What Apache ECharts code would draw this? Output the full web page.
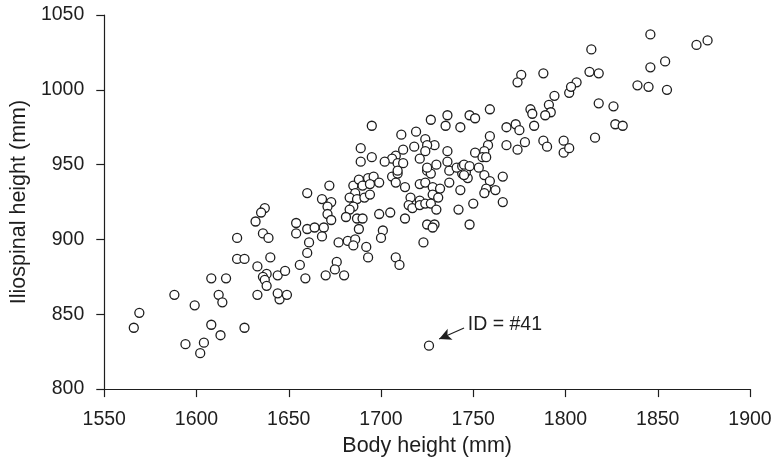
<!DOCTYPE html>
<html>
<head>
<meta charset="utf-8">
<title>Body height vs iliospinal height</title>
<script src="https://cdn.jsdelivr.net/npm/echarts@6/dist/echarts.min.js"></script>
<style>
  html, body { margin: 0; padding: 0; background: #fff; }
  #scatter { width: 779px; height: 462px; }
</style>
</head>
<body>
<div id="scatter"></div>
<script>
// body height (mm), one entry per subject
const bodyHeight = [
  1608, 1616, 1588, 1612, 1614, 1599, 1569, 1566, 1608, 1626, 1613, 1604, 1594, 1602, 1622, 1622, 1645, 1633, 1644, 1649,
  1672, 1660, 1685, 1688, 1686, 1690, 1683, 1687, 1691, 1694, 1668, 1673, 1671, 1685, 1683, 1637, 1635, 1632, 1671, 1673,
  1681, 1687, 1690, 1654, 1660, 1664, 1669, 1688, 1636, 1639, 1654, 1668, 1661, 1677, 1682, 1686, 1685, 1692, 1660, 1640,
  1626, 1633, 1656, 1676, 1693, 1675, 1638, 1636, 1637, 1638, 1644, 1648, 1659, 1670, 1680,
  1693, 1696, 1694, 1699,
  1706, 1709, 1708, 1713, 1725, 1727, 1721, 1724, 1728, 1732, 1737, 1737, 1744, 1747, 1743, 1728, 1731, 1716, 1715, 1717,
  1721, 1721, 1724, 1727, 1730, 1742, 1750, 1699, 1705, 1713, 1725, 1729, 1728, 1748, 1701, 1700, 1723, 1708, 1710,
  1736, 1727, 1748, 1695, 1735, 1743, 1711, 1719, 1724, 1729, 1718, 1725, 1724, 1712, 1736, 1689, 1689, 1695, 1708, 1706,
  1702, 1709, 1712, 1721, 1730, 1736, 1725, 1709, 1741, 1744, 1746,
  1794, 1802, 1791, 1792, 1789, 1781, 1782, 1759, 1751, 1768, 1773, 1775, 1783, 1759, 1758, 1768, 1774, 1778, 1788, 1790,
  1799, 1799, 1802, 1751, 1756, 1755, 1757, 1745, 1748, 1753, 1745, 1756, 1759, 1766, 1757, 1762, 1756, 1766,
  1814, 1813, 1818, 1806, 1803, 1846, 1854, 1839, 1845, 1855, 1818, 1826, 1827, 1831, 1816, 1846, 1871, 1877, 1776, 1774,
  1788,
  1726
];
// iliospinal height (mm), same order
const iliospinalHeight = [
  874, 874, 863, 863, 858, 856, 851, 841, 843, 841, 836, 831, 830, 824, 901, 887, 860, 863, 864, 863,
  936, 931, 936, 940, 931, 936, 928, 927, 928, 930, 927, 925, 922, 922, 920, 921, 918, 912, 917, 913,
  915, 914, 914, 911, 907, 908, 908, 907, 904, 901, 904, 902, 898, 898, 899, 900, 896, 895, 891, 888,
  887, 882, 883, 885, 888, 880, 877, 875, 873, 869, 876, 879, 874, 876, 876,
  941, 942, 937, 938,
  942, 944, 938, 935, 946, 944, 937, 938, 935, 934, 938, 946, 944, 941, 933, 930, 928, 928, 923, 921,
  926, 923, 924, 924, 920, 920, 924, 917, 918, 914, 910, 910, 908, 910, 906, 901, 898, 888, 883,
  983, 980, 983, 976, 976, 975, 970, 972, 967, 963, 962, 963, 959, 960, 959, 961, 952, 955, 956, 954,
  952, 951, 951, 954, 950, 952, 948, 946, 948, 949, 945,
  996, 998, 990, 985, 983, 987, 984, 987, 981, 975, 977, 973, 976, 969, 963, 963, 960, 965, 966, 962,
  966, 958, 961, 958, 959, 955, 955, 950, 949, 948, 943, 943, 939, 942, 934, 933, 931, 925,
  1027, 1012, 1011, 1005, 1002, 1015, 1019, 1003, 1002, 1000, 991, 989, 977, 976, 968, 1037, 1030, 1033, 1010, 1005,
  1011,
  829
];

// axis ticks
const xTicks = [1550, 1600, 1650, 1700, 1750, 1800, 1850, 1900];
const yTicks = [800, 850, 900, 950, 1000, 1050];

// annotation for subject #41
const noteText = 'ID = #41';
const arrowFrom = [1745, 840.8];
const arrowTo = [1731.5, 833.5];
const notePos = [1747, 843.4];

const ink = '#1e1e1e';
const font = '"Liberation Sans", Arial, sans-serif';

let points = bodyHeight.map((x, i) => [x, iliospinalHeight[i]]);

let chart = echarts.init(document.getElementById('scatter'));
chart.setOption({
  animation: false,
  grid: { left: 100, right: 29, top: 15, bottom: 69 },
  xAxis: {
    type: 'value',
    min: xTicks[0],
    max: xTicks[xTicks.length - 1],
    interval: 50,
    name: 'Body height (mm)',
    nameLocation: 'middle',
    nameGap: 45,
    nameTextStyle: { color: ink, fontSize: 21.5, fontFamily: font },
    axisLine: { show: true, lineStyle: { color: ink, width: 1.2 } },
    axisTick: { show: true, inside: false, length: 8, lineStyle: { color: ink, width: 1.2 } },
    axisLabel: { color: ink, fontSize: 19.5, fontFamily: font, margin: 21, formatter: v => String(v) },
    splitLine: { show: false }
  },
  yAxis: {
    type: 'value',
    min: yTicks[0],
    max: yTicks[yTicks.length - 1],
    interval: 50,
    name: 'Iliospinal height (mm)',
    nameLocation: 'middle',
    nameGap: 59,
    nameTextStyle: { color: ink, fontSize: 21.5, fontFamily: font },
    axisLine: { show: true, lineStyle: { color: ink, width: 1.2 } },
    axisTick: { show: true, inside: false, length: 8, lineStyle: { color: ink, width: 1.2 } },
    axisLabel: { color: ink, fontSize: 19.5, fontFamily: font, margin: 20, formatter: v => String(v) },
    splitLine: { show: false }
  },
  series: [
    {
      type: 'scatter',
      data: points,
      symbol: 'circle',
      symbolSize: 9,
      itemStyle: { color: '#fff', borderColor: ink, borderWidth: 1.3, opacity: 1 },
      silent: true,
      // arrow pointing at the outlier
      markLine: {
        silent: true,
        symbol: ['none', 'arrow'],
        symbolSize: [9, 12],
        lineStyle: { color: ink, width: 1.2, type: 'solid' },
        label: { show: false },
        data: [[{ coord: arrowFrom }, { coord: arrowTo }]]
      },
      markPoint: {
        silent: true,
        symbol: 'circle',
        symbolSize: 0,
        label: {
          show: true,
          position: 'right',
          distance: 0,
          formatter: noteText,
          color: ink,
          fontSize: 19.5,
          fontFamily: font
        },
        data: [{ coord: notePos }]
      }
    }
  ]
});
</script>
</body>
</html>
